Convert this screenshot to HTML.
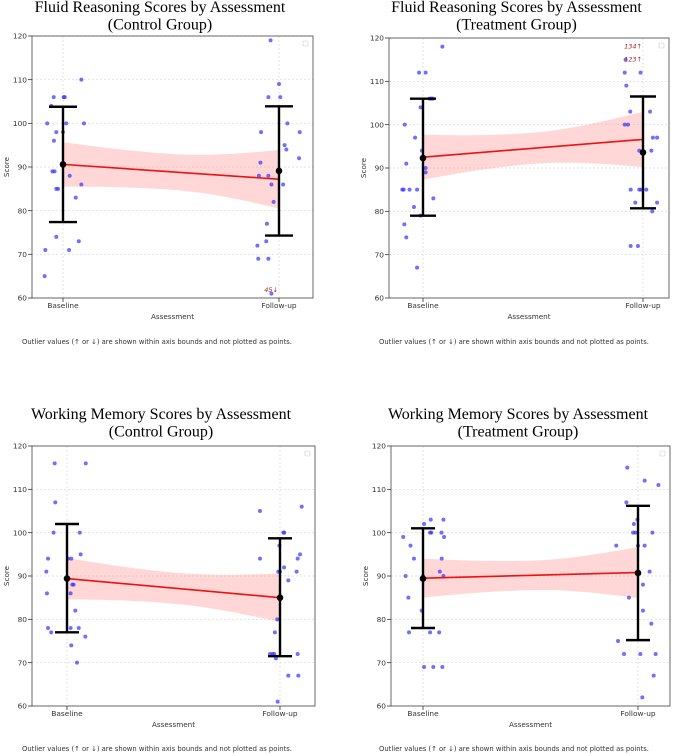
<!DOCTYPE html>
<html><head><meta charset="utf-8">
<style>
html,body{margin:0;padding:0;background:#fff;}
body{width:673px;height:756px;overflow:hidden;position:relative;}
svg{position:absolute;left:0;top:0;}
</style></head>
<body>
<svg id="chart" width="673" height="756" viewBox="0 0 673 756"></svg>
<script>
// ---- Panel 1: Fluid Reasoning, Control ----
const p1BaseJitter=[-0.085,-0.082,-0.073,-0.054,-0.043,0.003,0.008,-0.049,-0.039,-0.042,-0.031,-0.031,-0.023,-0.031,0,0.015,0.031,0.028,0.059,0.073,0.085,0.097,0.085];
const p1BaseValues=[65,71,100,104,106,106,106,89,89,96,98,85,85,74,98,100,88,71,83,73,110,100,86];
const p1FollowJitter=[-0.039,-0.049,0,0.006,-0.083,-0.086,-0.093,-0.049,-0.035,-0.025,0.026,0.034,0.039,0.019,0.096,0.093,-0.056,-0.059,-0.1,-0.096,-0.049,-0.035];
const p1FollowValues=[119,106,109,106,98,91,88,88,86,82,95,94,100,86,98,92,77,73,72,69,69,61];
const p1Means=[90.6,89.1];
const p1ErrLow=[77.4,74.3];
const p1ErrHigh=[103.8,103.9];
const p1Reg=[90.6,87.2];
const p1BandHalf=[5.1,4.1,6.7];
const p1Outliers=["45↓"];
const p1OutlierValues=[62];

// ---- Panel 2: Fluid Reasoning, Treatment ----
const p2BaseJitter=[0.088,-0.018,0.012,-0.011,0.03,0.038,0.045,-0.083,-0.076,-0.036,-0.005,-0.094,-0.088,-0.061,-0.027,-0.041,-0.011,0.012,0.012,0.047,-0.085,-0.076,-0.027];
const p2BaseValues=[118,112,112,104,106,106,106,100,91,97,94,85,85,85,85,81,79,90,89,83,77,74,67];
const p2FollowJitter=[-0.079,-0.083,-0.076,-0.011,-0.058,-0.083,-0.068,0.032,0.045,0.064,-0.017,0.038,-0.056,-0.017,-0.008,0.015,-0.035,0.042,0.064,-0.056,-0.023];
const p2FollowValues=[115,112,109,112,103,100,100,103,97,97,94,94,85,85,85,85,82,80,82,72,72];
const p2Means=[92.3,93.6];
const p2ErrLow=[79,80.7];
const p2ErrHigh=[106,106.5];
const p2Reg=[92.5,96.6];
const p2BandHalf=[5.2,3.6,6.4];
const p2Outliers=["134↑","123↑"];
const p2OutlierValues=[118.2,115.2];

// ---- Panel 3: Working Memory, Control ----
const p3BaseJitter=[-0.058,0.088,-0.055,-0.063,0.06,-0.089,0.005,0.02,0.064,-0.097,-0.094,0.025,0.031,0.017,0.039,-0.089,-0.074,0.017,0.055,0.086,0.02,0.047];
const p3BaseValues=[116,116,107,100,100,94,94,94,95,91,86,88,88,86,82,78,77,78,78,76,74,70];
const p3FollowJitter=[-0.094,-0.094,0.016,0.02,-0.003,-0.008,0,0.019,0.039,0.078,0.083,0.094,0.102,-0.013,-0.024,-0.047,-0.035,-0.027,-0.019,0.083,0.039,0.086,-0.011];
const p3FollowValues=[105,94,100,100,97,91,91,92,89,91,94,95,106,80,77,72,72,72,71,72,67,67,61];
const p3Means=[89.4,85];
const p3ErrLow=[77,71.5];
const p3ErrHigh=[102,98.7];
const p3Reg=[89.4,85];
const p3BandHalf=[4.8,3.6,5.6];
const p3Outliers=[];
const p3OutlierValues=[];

// ---- Panel 4: Working Memory, Treatment ----
const p4BaseJitter=[-0.092,-0.058,-0.042,-0.081,-0.068,0.005,0.036,0.033,0.039,0.095,0.086,0.098,0.087,0.078,0.095,0,-0.006,-0.065,0.033,0.075,0.005,0.048,0.09];
const p4BaseValues=[99,97,94,90,85,102,103,100,100,103,100,99,94,91,90,90,82,77,77,77,69,69,69];
const p4FollowJitter=[-0.05,-0.054,0.031,0.095,-0.101,-0.019,-0.023,-0.012,-0.003,0,0.031,0.067,0.054,0.023,-0.042,0.023,0.062,-0.093,-0.065,0.011,0.082,0.073,0.02];
const p4FollowValues=[115,107,112,111,97,102,100,100,103,97,97,100,91,88,85,82,79,75,72,72,72,67,62];
const p4Means=[89.4,90.7];
const p4ErrLow=[78,75.2];
const p4ErrHigh=[101,106.2];
const p4Reg=[89.5,90.8];
const p4BandHalf=[4.5,3.4,5.9];
const p4Outliers=[];
const p4OutlierValues=[];

const yTicks=[60,70,80,90,100,110,120];
const categories=["Baseline","Follow-up"];

const NS="http://www.w3.org/2000/svg";
const svg=document.getElementById('chart');
function mk(tag,attrs,parent){const e=document.createElementNS(NS,tag);for(const k in attrs)e.setAttribute(k,attrs[k]);(parent||svg).appendChild(e);return e;}

function drawPanel(cfg){
  const g=mk('g',{});
  
  
  const L=cfg.left,R=cfg.right,T=cfg.top,B=cfg.bottom;
  const y=v=>B-(v-60)/(120-60)*(B-T);
  const x=c=>cfg.cx0+c*(cfg.cx1-cfg.cx0);
  cfg.title.forEach((t,i)=>{
    const e=mk('text',{x:(L+R)/2-12.5,y:cfg.titleY+i*17.5,'text-anchor':'middle','font-family':'"Liberation Serif",serif','font-size':16,fill:'#000'},g);
    e.textContent=t;
    
    
  });
  yTicks.forEach(v=>{
    const gl=mk('line',{x1:L,x2:R,y1:y(v),y2:y(v),stroke:'#d8d8d8','stroke-width':0.7,'stroke-dasharray':'2,2'},g);
    
    
    const tk=mk('line',{x1:L-4,x2:L,y1:y(v),y2:y(v),stroke:'#333','stroke-width':0.8},g);
    
    
    const tl=mk('text',{x:L-5,y:y(v)+2.7,'text-anchor':'end','font-family':'"DejaVu Sans",sans-serif','font-size':7.4,fill:'#333'},g);
    tl.textContent=v;
    
    
  });
  categories.forEach((c,i)=>{
    const gl=mk('line',{x1:x(i),x2:x(i),y1:T,y2:B,stroke:'#d8d8d8','stroke-width':0.7,'stroke-dasharray':'2,2'},g);
    
    
    const tk=mk('line',{x1:x(i),x2:x(i),y1:B,y2:B+4,stroke:'#333','stroke-width':0.8},g);
    
    
    const tl=mk('text',{x:x(i),y:B+10,'text-anchor':'middle','font-family':'"DejaVu Sans",sans-serif','font-size':7.4,fill:'#333'},g);
    tl.textContent=c;
    
    
  });
  const h=cfg.band, n=40, up=[], lo=[];
  for(let k=0;k<=n;k++){
    const t=k/n, reg=cfg.reg[0]+(cfg.reg[1]-cfg.reg[0])*t;
    const he=t<0.5?h[0]:h[2], s=(t-0.5)/0.5;
    const hw=Math.sqrt(h[1]*h[1]+(he*he-h[1]*h[1])*s*s);
    up.push(x(t).toFixed(1)+','+y(reg+hw).toFixed(1));
    lo.unshift(x(t).toFixed(1)+','+y(reg-hw).toFixed(1));
  }
  const band=mk('polygon',{points:up.concat(lo).join(' '),fill:'#ff9a9a','fill-opacity':0.4},g);
  
  
  const drawPts=(js,vs,ci)=>js.forEach((j,i)=>{
    const c=mk('circle',{cx:x(ci+j),cy:y(vs[i]),r:2,fill:'#3333ff','fill-opacity':0.7},g);
    
    
  });
  drawPts(cfg.bj,cfg.bv,0);
  drawPts(cfg.fj,cfg.fv,1);
  const rl=mk('line',{x1:x(0),y1:y(cfg.reg[0]),x2:x(1),y2:y(cfg.reg[1]),stroke:'#ee1111','stroke-width':1.6},g);
  
  
  cfg.means.forEach((m,i)=>{
    const cw=cfg.cap;
    const eb=mk('path',{d:`M${x(i)},${y(cfg.lo[i])}V${y(cfg.hi[i])}M${x(i)-cw},${y(cfg.lo[i])}H${x(i)+cw}M${x(i)-cw},${y(cfg.hi[i])}H${x(i)+cw}`,stroke:'#000','stroke-width':2.4,fill:'none'},g);
    
    
    const mc=mk('circle',{cx:x(i),cy:y(m),r:3.3,fill:'#000'},g);
    
    
  });
  cfg.outl.forEach((t,i)=>{
    const e=mk('text',{x:x(1)-1,y:y(cfg.outv[i])+2.5,'text-anchor':'end','font-family':'"DejaVu Sans",sans-serif','font-size':6.5,'font-style':'italic',fill:'#b22222'},g);
    e.textContent=t;
    
    
  });
  const fr=mk('rect',{x:L,y:T,width:R-L,height:B-T,fill:'none',stroke:'#444','stroke-width':0.8},g);
  
  
  const lg=mk('rect',{x:R-10,y:T+5,width:5,height:5,fill:'#fff',stroke:'#ccc','stroke-width':0.6,rx:1},g);
  
  
  const yl=mk('text',{x:0,y:0,transform:`translate(${L-23},${(T+B)/2}) rotate(-90)`,'text-anchor':'middle','font-family':'"DejaVu Sans",sans-serif','font-size':7.2,fill:'#333'},g);
  yl.textContent='Score';
  
  
  const xl=mk('text',{x:(L+R)/2,y:B+21,'text-anchor':'middle','font-family':'"DejaVu Sans",sans-serif','font-size':7.2,fill:'#333'},g);
  xl.textContent='Assessment';
  
  
  const fn=mk('text',{x:cfg.noteX,y:cfg.noteY,'font-family':'"DejaVu Sans",sans-serif','font-size':6.8,fill:'#333'},g);
  fn.textContent='Outlier values (↑ or ↓) are shown within axis bounds and not plotted as points.';
  
  
}

drawPanel({name:'panel-fluid-control',left:32,right:313,top:36,bottom:298,cx0:63,cx1:279,titleY:12,title:['Fluid Reasoning Scores by Assessment','(Control Group)'],
  bj:p1BaseJitter,bv:p1BaseValues,fj:p1FollowJitter,fv:p1FollowValues,means:p1Means,lo:p1ErrLow,hi:p1ErrHigh,reg:p1Reg,band:p1BandHalf,outl:p1Outliers,outv:p1OutlierValues,cap:14,noteX:22,noteY:344});
drawPanel({name:'panel-fluid-treatment',left:389,right:669,top:38,bottom:298,cx0:423,cx1:643,titleY:12,title:['Fluid Reasoning Scores by Assessment','(Treatment Group)'],
  bj:p2BaseJitter,bv:p2BaseValues,fj:p2FollowJitter,fv:p2FollowValues,means:p2Means,lo:p2ErrLow,hi:p2ErrHigh,reg:p2Reg,band:p2BandHalf,outl:p2Outliers,outv:p2OutlierValues,cap:13,noteX:379,noteY:344});
drawPanel({name:'panel-memory-control',left:32,right:315,top:446,bottom:706,cx0:67,cx1:280,titleY:419,title:['Working Memory Scores by Assessment','(Control Group)'],
  bj:p3BaseJitter,bv:p3BaseValues,fj:p3FollowJitter,fv:p3FollowValues,means:p3Means,lo:p3ErrLow,hi:p3ErrHigh,reg:p3Reg,band:p3BandHalf,outl:p3Outliers,outv:p3OutlierValues,cap:12,noteX:22,noteY:751});
drawPanel({name:'panel-memory-treatment',left:391,right:670,top:446,bottom:706,cx0:423,cx1:638,titleY:419,title:['Working Memory Scores by Assessment','(Treatment Group)'],
  bj:p4BaseJitter,bv:p4BaseValues,fj:p4FollowJitter,fv:p4FollowValues,means:p4Means,lo:p4ErrLow,hi:p4ErrHigh,reg:p4Reg,band:p4BandHalf,outl:p4Outliers,outv:p4OutlierValues,cap:12,noteX:379,noteY:751});
</script>
</body></html>
